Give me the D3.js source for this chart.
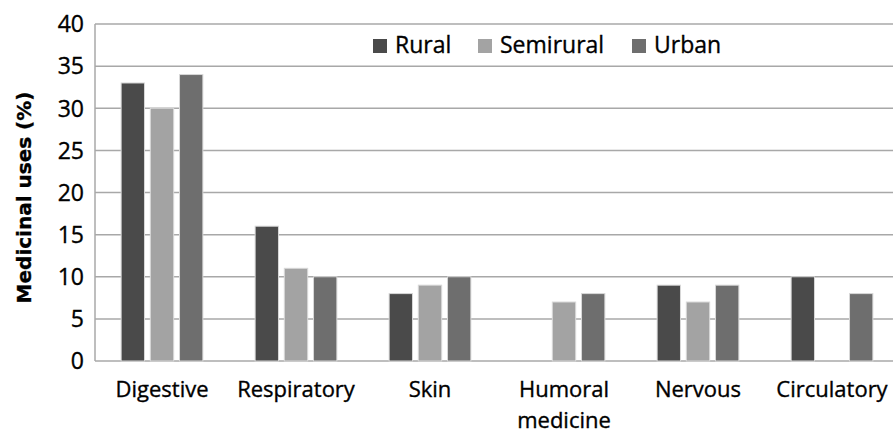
<!DOCTYPE html>
<html>
<head>
<meta charset="utf-8">
<script src="https://cdn.jsdelivr.net/npm/d3@7"></script>
<style>
  body { margin: 0; background: #fff; }
  svg { display: block; font-family: "Open Sans", sans-serif; }
  text.lbl { fill: #000; stroke: #000; stroke-width: 0.35px; }
</style>
</head>
<body>
<svg id="chart" width="893" height="436"></svg>
<script>
// datos
const categories = ['Digestive', 'Respiratory', 'Skin', 'Humoral\nmedicine', 'Nervous', 'Circulatory'];
const series = ['Rural', 'Semirural', 'Urban'];
const rural = [33, 16, 8, 0, 9, 10];
const semirural = [30, 11, 9, 7, 7, 0];
const urban = [34, 10, 10, 8, 9, 8];
const yTicks = [0, 5, 10, 15, 20, 25, 30, 35, 40];

const values = { Rural: rural, Semirural: semirural, Urban: urban };
const colors = d3.scaleOrdinal().domain(series).range(['#4a4a4a', '#a3a3a3', '#6e6e6e']);

const margins = { left: 95, top: 24, right: -6, bottom: 75 };
const svg = d3.select('#chart');
const width = 893, height = 436;
const innerW = width - margins.left - margins.right;
const innerH = height - margins.top - margins.bottom;

const x = d3.scaleBand().domain(categories).range([0, innerW]).paddingInner(0.39).paddingOuter(0.195);
const xs = d3.scaleBand().domain(series).range([0, x.bandwidth()]).paddingInner(0.2);
const y = d3.scaleLinear().domain([0, 40]).range([innerH, 0]);

const g = svg.append('g').attr('transform', `translate(${margins.left},${margins.top})`);

// rejilla
g.selectAll('line.grid')
  .data(yTicks)
  .join('line')
  .attr('class', 'grid')
  .attr('x1', 0).attr('x2', innerW)
  .attr('y1', d => y(d)).attr('y2', d => y(d))
  .attr('stroke', '#a8a8a8').attr('stroke-width', 1.5);

g.append('line')
  .attr('x1', 0).attr('x2', 0).attr('y1', 0).attr('y2', innerH)
  .attr('stroke', '#a8a8a8').attr('stroke-width', 1.5);

// barras
const rows = categories.map((c, i) => series.map(s => ({ cat: c, s, v: values[s][i] })));
g.selectAll('g.group')
  .data(rows)
  .join('g')
  .attr('class', 'group')
  .attr('transform', (d, i) => `translate(${x(categories[i])},0)`)
  .selectAll('rect')
  .data(d => d.filter(e => e.v > 0))
  .join('rect')
  .attr('x', d => xs(d.s))
  .attr('width', xs.bandwidth())
  .attr('y', d => y(d.v))
  .attr('height', d => innerH - y(d.v))
  .attr('fill', d => colors(d.s))
  .attr('stroke', '#d8d8d8')
  .attr('stroke-width', 1);

// eje y
g.selectAll('text.ytick')
  .data(yTicks)
  .join('text')
  .attr('class', 'ytick lbl')
  .attr('x', -11)
  .attr('y', d => y(d))
  .attr('dy', '0.36em')
  .attr('text-anchor', 'end')
  .style('font-size', '23px')
  .text(d => d);

svg.append('text')
  .attr('class', 'lbl')
  .attr('transform', `translate(31,${margins.top + innerH / 2 + 5}) rotate(-90)`)
  .attr('text-anchor', 'middle')
  .style('font-family', '"DejaVu Sans", sans-serif')
  .style('font-size', '20px')
  .style('font-weight', 'bold')
  .text('Medicinal uses (%)');

// etiquetas de categoria
g.selectAll('text.xtick')
  .data(categories)
  .join('text')
  .attr('class', 'xtick lbl')
  .attr('text-anchor', 'middle')
  .attr('transform', d => `translate(${x(d) + x.bandwidth() / 2},${innerH + 36})`)
  .style('font-size', '22px')
  .selectAll('tspan')
  .data(d => d.split('\n'))
  .join('tspan')
  .attr('x', 0)
  .attr('dy', (d, i) => i === 0 ? 0 : 30.5)
  .text(d => d);

// leyenda
const legendX = [373, 478, 632];
const legend = svg.append('g').attr('transform', 'translate(0,45)');
const items = legend.selectAll('g.legend-item')
  .data(series)
  .join('g')
  .attr('class', 'legend-item')
  .attr('transform', (d, i) => `translate(${legendX[i]},0)`);
items.append('rect')
  .attr('x', 0).attr('y', -6)
  .attr('width', 14).attr('height', 14)
  .attr('fill', d => colors(d));
items.append('text')
  .attr('class', 'lbl')
  .attr('x', 22).attr('dy', '0.36em')
  .style('font-size', '23px')
  .text(d => d);
</script>
</body>
</html>
